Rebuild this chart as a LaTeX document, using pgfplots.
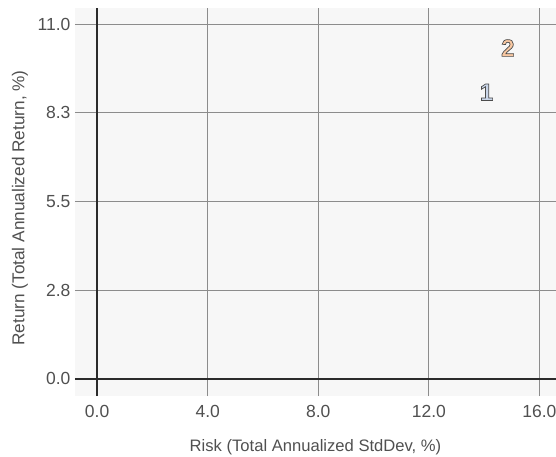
\documentclass[border=0pt]{standalone}
\usepackage{pgfplots}
\pgfplotsset{compat=1.18}
\usepackage{fontspec}
\setmainfont{Liberation Sans}
\definecolor{bgc}{HTML}{F7F7F7}
\definecolor{gridc}{HTML}{8C8C8C}
\definecolor{zeroc}{HTML}{2B2B2B}
\definecolor{txtc}{HTML}{505050}
\definecolor{fillA}{HTML}{C9D5E8}
\definecolor{fillB}{HTML}{F9C8A2}
\newcommand\outl[2]{{\color{#1}\special{pdf:literal 2 Tr 0.7 w 0.3 0.3 0.3 RG}\textbf{#2}\special{pdf:literal 0 Tr}}}
\begin{document}
\begin{tikzpicture}
\begin{axis}[
  scale only axis,
  width=481pt, height=388pt,
  xmin=-0.8, xmax=16.6, ymin=-0.53, ymax=11.5,
  axis background/.style={fill=bgc},
  axis line style={draw=none},
  major tick length=0pt,
  xtick={0,4,8,12,16},
  xticklabels={0.0,4.0,8.0,12.0,16.0},
  ytick={0,2.75,5.5,8.25,11},
  yticklabels={0.0,2.8,5.5,8.3,11.0},
  grid=major,
  major grid style={draw=gridc, line width=0.7pt},
  tick label style={font=\fontsize{17.5}{20}\selectfont, text=txtc},
  xticklabel style={yshift=-6pt},
  yticklabel style={xshift=-1pt},
  xlabel={Risk (Total Annualized StdDev, \%)},
  ylabel={Return (Total Annualized Return, \%)},
  xlabel style={font=\fontsize{16.6}{19}\selectfont, text=txtc, yshift=-15pt},
  ylabel style={font=\fontsize{17.2}{20}\selectfont, text=txtc, yshift=3pt, xshift=-6pt},
  clip=false,
]
\addplot[draw=zeroc, line width=1.3pt] coordinates {(0,-0.53) (0,11.5)};
\addplot[draw=zeroc, line width=1.3pt] coordinates {(-0.8,0) (16.6,0)};
\addplot[only marks, mark=none, nodes near coords={\fontsize{24}{26}\selectfont\outl{fillA}{1}}, nodes near coords align={center}] coordinates {(14.09,8.89)};
\addplot[only marks, mark=none, nodes near coords={\fontsize{24}{26}\selectfont\outl{fillB}{2}}, nodes near coords align={center}] coordinates {(14.86,10.26)};
\end{axis}
\pgfresetboundingbox
\useasboundingbox ([xshift=-75pt,yshift=-61pt]current axis.south west) rectangle ([yshift=8pt]current axis.north east);
\end{tikzpicture}
\end{document}
